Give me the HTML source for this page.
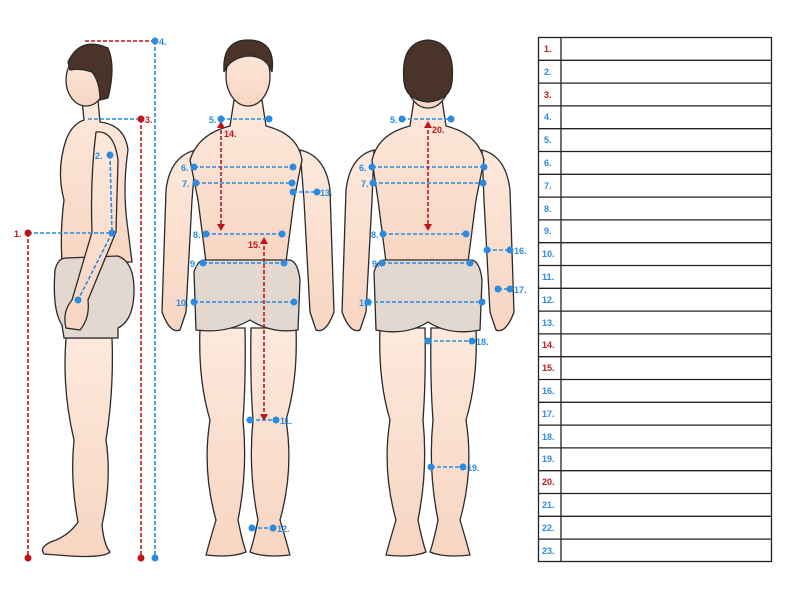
<!DOCTYPE html>
<html><head><meta charset="utf-8"><style>
html,body{margin:0;padding:0;background:#fff;width:800px;height:591px;overflow:hidden}
svg{display:block}
text{font-family:"Liberation Sans",sans-serif;font-weight:bold;font-size:9px}
</style></head><body>
<svg width="800" height="591" viewBox="0 0 800 591" xmlns="http://www.w3.org/2000/svg">
<defs>
<linearGradient id="sk" x1="0" y1="0" x2="0" y2="1"><stop offset="0" stop-color="#fde9dc"/><stop offset="1" stop-color="#f7d5c2"/></linearGradient>
</defs>
<g stroke="#2a2a2a" stroke-width="1.3" fill="url(#sk)">
<!-- SIDE FIGURE -->
<path d="M66,338 L112,338 Q114,390 106,440 Q112,480 102,525 Q104,545 110,552 Q104,558 70,556 L44,554 Q38,546 56,540 Q70,534 78,522 Q70,480 74,440 Q62,390 66,338 Z"/>
<path d="M82,100 L98,100 L100,122 Q125,125 128,150 Q122,190 128,230 L132,262 L62,262 Q60,230 64,200 Q56,170 66,140 Q72,124 84,120 Z"/>
<path d="M55,270 Q58,258 66,258 L118,256 Q134,262 134,290 Q134,320 118,328 L118,338 L64,338 L62,325 Q52,310 55,270 Z" fill="#e2d8cf"/>
<path d="M96,132 Q114,130 118,160 L116,232 L88,300 Q90,318 80,330 L66,328 Q62,312 72,300 L92,232 Q90,180 96,132 Z"/>
<ellipse cx="86" cy="80" rx="20" ry="26"/>
<path d="M68,62 Q80,36 108,48 Q116,66 108,98 L100,100 Q100,82 92,72 Q80,68 70,70 Z" fill="#4a3328"/>
<!-- FRONT FIGURE -->
<path d="M200,328 L245,328 Q246,380 243,420 Q248,470 238,520 Q242,540 246,552 Q232,558 206,555 Q210,540 216,520 Q202,470 210,420 Q198,380 200,328 Z"/>
<path d="M296,328 L251,328 Q250,380 253,420 Q248,470 258,520 Q254,540 250,552 Q264,558 290,555 Q286,540 280,520 Q294,470 286,420 Q298,380 296,328 Z"/>
<path d="M196,150 Q170,156 166,190 L162,312 Q170,334 180,330 L186,312 L192,200 Z"/>
<path d="M300,150 Q326,156 330,190 L334,312 Q326,334 316,330 L310,312 L304,200 Z"/>
<path d="M234,100 L262,100 L266,126 Q298,134 302,160 L294,200 L286,262 L206,262 L198,200 L190,160 Q198,134 230,126 Z"/>
<path d="M194,272 Q198,260 204,260 L290,260 Q298,262 300,280 L298,330 Q272,334 250,320 Q226,334 196,330 Z" fill="#e2d8cf"/>
<ellipse cx="248" cy="76" rx="22" ry="30"/>
<path d="M224,72 Q222,40 248,40 Q276,40 272,72 Q266,56 248,56 Q230,58 224,72 Z" fill="#4a3328"/>
<!-- BACK FIGURE -->
<path d="M380,328 L425,328 Q426,380 423,420 Q428,470 418,520 Q422,540 426,552 Q412,558 386,555 Q390,540 396,520 Q382,470 390,420 Q378,380 380,328 Z"/>
<path d="M476,328 L431,328 Q430,380 433,420 Q428,470 438,520 Q434,540 430,552 Q444,558 470,555 Q466,540 460,520 Q474,470 466,420 Q478,380 476,328 Z"/>
<path d="M374,150 Q350,156 346,190 L342,312 Q350,334 360,330 L366,312 L372,200 Z"/>
<path d="M482,150 Q506,156 510,190 L514,312 Q506,334 496,330 L490,312 L484,200 Z"/>
<path d="M414,100 L442,100 L446,126 Q478,134 484,160 L476,200 L468,262 L386,262 L378,200 L372,160 Q378,134 410,126 Z"/>
<path d="M374,272 Q378,260 384,260 L472,260 Q480,262 482,280 L480,330 Q450,336 428,322 Q406,336 376,330 Z" fill="#e2d8cf"/>
<ellipse cx="428" cy="78" rx="22" ry="30"/>
<path d="M404,82 Q400,42 428,40 Q456,42 452,82 Q450,100 428,102 Q406,100 404,82 Z" fill="#4a3328"/>
</g>
<!-- measurement lines -->
<g fill="none" stroke-width="1.6" stroke-dasharray="4,2">
<g stroke="#2a8be0">
<path d="M155,41 V558"/><path d="M88,119 H141"/><path d="M28,233 H112"/><path d="M110,155 L112,233 L78,300"/>
<path d="M221,119 H269"/><path d="M194,167 H293"/><path d="M196,183 H292"/><path d="M293,192 H317"/><path d="M206,234 H282"/><path d="M203,263 H284"/><path d="M194,302 H294"/><path d="M250,420 H276"/><path d="M252,528 H273"/>
<path d="M402,119 H451"/><path d="M372,167 H484"/><path d="M373,183 H483"/><path d="M383,234 H466"/><path d="M382,263 H470"/><path d="M368,302 H482"/><path d="M487,250 H510"/><path d="M498,289 H510"/><path d="M428,341 H472"/><path d="M431,467 H463"/>
</g>
<g stroke="#c0141c">
<path d="M85,41 H155"/><path d="M141,119 V558"/><path d="M28,233 V558"/>
<path d="M221,124 V228"/><path d="M264,240 V418"/><path d="M428,124 V228"/>
</g>
</g>
<g fill="#c0141c">
<path d="M217,128 L221,121 L225,128 Z"/><path d="M217,224 L221,231 L225,224 Z"/><path d="M260,244 L264,237 L268,244 Z"/><path d="M260,414 L264,421 L268,414 Z"/><path d="M424,128 L428,121 L432,128 Z"/><path d="M424,224 L428,231 L432,224 Z"/>
<circle cx="141" cy="119" r="3.5"/><circle cx="28" cy="233" r="3.5"/><circle cx="28" cy="558" r="3.5"/><circle cx="141" cy="558" r="3.5"/>
</g>
<g fill="#2a8be0">
<circle cx="155" cy="41" r="3.5"/><circle cx="155" cy="558" r="3.5"/><circle cx="110" cy="155" r="3.5"/><circle cx="112" cy="233" r="3.5"/><circle cx="78" cy="300" r="3.5"/>
<circle cx="221" cy="119" r="3.5"/><circle cx="269" cy="119" r="3.5"/><circle cx="194" cy="167" r="3.5"/><circle cx="293" cy="167" r="3.5"/><circle cx="196" cy="183" r="3.5"/><circle cx="292" cy="183" r="3.5"/><circle cx="293" cy="192" r="3.5"/><circle cx="317" cy="192" r="3.5"/><circle cx="206" cy="234" r="3.5"/><circle cx="282" cy="234" r="3.5"/><circle cx="203" cy="263" r="3.5"/><circle cx="284" cy="263" r="3.5"/><circle cx="194" cy="302" r="3.5"/><circle cx="294" cy="302" r="3.5"/><circle cx="250" cy="420" r="3.5"/><circle cx="276" cy="420" r="3.5"/><circle cx="252" cy="528" r="3.5"/><circle cx="273" cy="528" r="3.5"/>
<circle cx="402" cy="119" r="3.5"/><circle cx="451" cy="119" r="3.5"/><circle cx="372" cy="167" r="3.5"/><circle cx="484" cy="167" r="3.5"/><circle cx="373" cy="183" r="3.5"/><circle cx="483" cy="183" r="3.5"/><circle cx="383" cy="234" r="3.5"/><circle cx="466" cy="234" r="3.5"/><circle cx="382" cy="263" r="3.5"/><circle cx="470" cy="263" r="3.5"/><circle cx="368" cy="302" r="3.5"/><circle cx="482" cy="302" r="3.5"/><circle cx="487" cy="250" r="3.5"/><circle cx="510" cy="250" r="3.5"/><circle cx="498" cy="289" r="3.5"/><circle cx="510" cy="289" r="3.5"/><circle cx="428" cy="341" r="3.5"/><circle cx="472" cy="341" r="3.5"/><circle cx="431" cy="467" r="3.5"/><circle cx="463" cy="467" r="3.5"/>
</g>
<g fill="#2a8be0">
<text x="159" y="45">4.</text><text x="95" y="159">2.</text>
<text x="209" y="123">5.</text><text x="181" y="171">6.</text><text x="182" y="187">7.</text><text x="320" y="196">13.</text><text x="193" y="238">8.</text><text x="190" y="267">9.</text><text x="176" y="306">10.</text><text x="280" y="424">11.</text><text x="277" y="532">12.</text>
<text x="390" y="123">5.</text><text x="359" y="171">6.</text><text x="361" y="187">7.</text><text x="371" y="238">8.</text><text x="372" y="267">9.</text><text x="359" y="306">10.</text><text x="514" y="254">16.</text><text x="514" y="293">17.</text><text x="476" y="345">18.</text><text x="467" y="471">19.</text>
</g>
<g fill="#c0141c">
<text x="145" y="123">3.</text><text x="14" y="237">1.</text><text x="224" y="137">14.</text><text x="248" y="248">15.</text><text x="432" y="133">20.</text>
</g>
<!-- table -->
<g stroke="#222" stroke-width="1.3" fill="none">
<rect x="538.5" y="37.5" width="233" height="524"/>
<path d="M561,37 V562"/>
</g>
<g stroke="#222" stroke-width="1.3">
<path d="M538,60.3H772M538,83.1H772M538,105.9H772M538,128.7H772M538,151.5H772M538,174.3H772M538,197.1H772M538,219.9H772M538,242.7H772M538,265.5H772M538,288.3H772M538,311.1H772M538,333.9H772M538,356.7H772M538,379.5H772M538,402.3H772M538,425.1H772M538,447.9H772M538,470.7H772M538,493.5H772M538,516.3H772M538,539.1H772"/>
</g>
<g font-size="9">
<text x="544" y="52" fill="#c0141c">1.</text>
<text x="544" y="75" fill="#2a8be0">2.</text>
<text x="544" y="98" fill="#c0141c">3.</text>
<text x="544" y="120" fill="#2a8be0">4.</text>
<text x="544" y="143" fill="#2a8be0">5.</text>
<text x="544" y="166" fill="#2a8be0">6.</text>
<text x="544" y="189" fill="#2a8be0">7.</text>
<text x="544" y="212" fill="#2a8be0">8.</text>
<text x="544" y="234" fill="#2a8be0">9.</text>
<text x="542" y="257" fill="#2a8be0">10.</text>
<text x="542" y="280" fill="#2a8be0">11.</text>
<text x="542" y="303" fill="#2a8be0">12.</text>
<text x="542" y="326" fill="#2a8be0">13.</text>
<text x="542" y="348" fill="#c0141c">14.</text>
<text x="542" y="371" fill="#c0141c">15.</text>
<text x="542" y="394" fill="#2a8be0">16.</text>
<text x="542" y="417" fill="#2a8be0">17.</text>
<text x="542" y="440" fill="#2a8be0">18.</text>
<text x="542" y="462" fill="#2a8be0">19.</text>
<text x="542" y="485" fill="#c0141c">20.</text>
<text x="542" y="508" fill="#2a8be0">21.</text>
<text x="542" y="531" fill="#2a8be0">22.</text>
<text x="542" y="554" fill="#2a8be0">23.</text>
</g>
</svg>
</body></html>
